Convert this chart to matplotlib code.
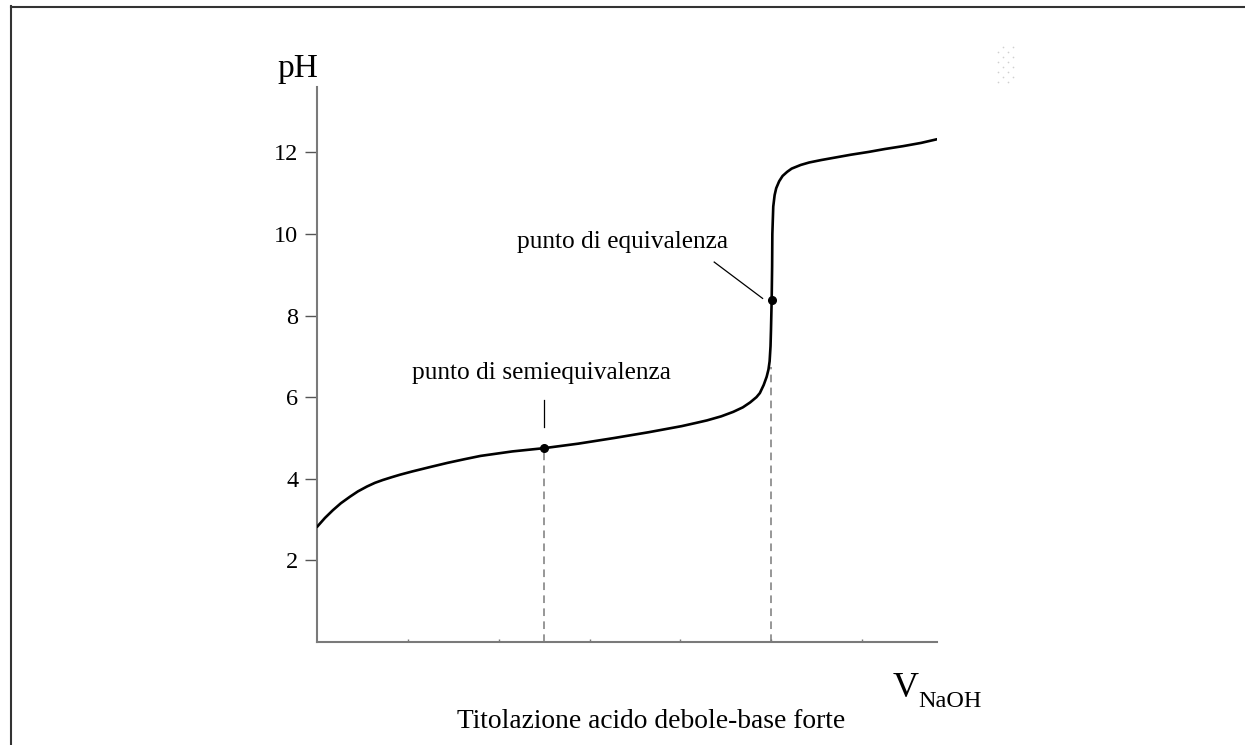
import matplotlib
matplotlib.use("Agg")
import matplotlib.pyplot as plt
from matplotlib.lines import Line2D
import numpy as np

# titration curve (volume NaOH, pH)
vol = [0.0, 0.35, 0.7, 1.05, 1.45, 1.8, 2.2, 2.55, 2.9, 3.3, 3.66, 4.2, 5.0,
       5.75, 6.5, 7.2, 8.6, 10.0, 11.5, 13.1, 14.6, 16.06, 16.7, 17.17, 17.8,
       18.33, 18.75, 19.07, 19.35, 19.5, 19.67, 19.8, 19.88, 19.93, 19.97,
       19.99, 20.02, 20.04, 20.05, 20.09, 20.15, 20.22, 20.35, 20.5, 20.7,
       20.9, 21.3, 21.67, 22.2, 22.8, 23.5, 24.3, 25.0, 25.8, 26.6, 27.3]
ph = [2.82, 3.04, 3.23, 3.40, 3.56, 3.69, 3.81, 3.90, 3.97, 4.04, 4.10, 4.18, 4.29,
      4.39, 4.48, 4.56, 4.67, 4.75, 4.86, 5.0, 5.14, 5.29, 5.37, 5.43, 5.53,
      5.64, 5.75, 5.87, 6.0, 6.1, 6.3, 6.5, 6.68, 6.88, 7.25,
      7.65, 8.38, 9.2, 10.0, 10.67, 10.95, 11.12, 11.29, 11.42, 11.52,
      11.6, 11.69, 11.75, 11.81, 11.87, 11.94, 12.01, 12.08, 12.15, 12.23, 12.32]

half_eq_vol, half_eq_ph = 10.0, 4.75
eq_vol, eq_ph = 20.02, 8.38
eq_dash_top = 6.75

yticks = [2, 4, 6, 8, 10, 12]
xticks = [4, 8, 12, 16, 20, 24]

serif = ['Liberation Serif', 'DejaVu Serif']
W, H = 1245, 745

fig = plt.figure(figsize=(W / 100, H / 100), dpi=100)
ax = fig.add_axes([317 / W, 1 - 642 / H, 620 / W, (642 - 87) / H])

gray = '#7a7a7a'
ax.plot(vol, ph, color='black', lw=1.9, solid_capstyle='round', solid_joinstyle='round', zorder=3)

# dashed guide lines
ax.plot([half_eq_vol, half_eq_vol], [0, half_eq_ph], ls=(0, (5, 3.5)), color=gray, lw=1.1)
ax.plot([eq_vol - 0.05, eq_vol - 0.05], [0, eq_dash_top], ls=(0, (5, 3.5)), color=gray, lw=1.1)

# points
ax.plot([half_eq_vol, eq_vol], [half_eq_ph, eq_ph], 'o', color='black', ms=5.5, zorder=4)

# annotations
ax.plot([half_eq_vol, half_eq_vol], [5.27, 5.93], color='black', lw=0.9)
ax.text(9.9, 6.45, 'punto di semiequivalenza', ha='center', va='baseline',
        fontsize=18.3, family=serif)
ax.plot([17.49, 19.62], [9.31, 8.42], color='black', lw=0.9)
ax.text(13.44, 9.66, 'punto di equivalenza', ha='center', va='baseline',
        fontsize=18.3, family=serif)

ax.set_xlim(0, 27.3)
ax.set_ylim(0, 13.6)
for s in ['top', 'right']:
    ax.spines[s].set_visible(False)
for s in ['left', 'bottom']:
    ax.spines[s].set_color(gray)
    ax.spines[s].set_linewidth(1.5)

ax.set_yticks(yticks)
ax.set_yticklabels([str(t) for t in yticks], fontsize=17.5, family=serif)
ax.tick_params(axis='y', direction='out', length=9, width=1.0, color='#555555', pad=4.5)
ax.set_xticks(xticks)
ax.set_xticklabels([])
ax.tick_params(axis='x', direction='in', length=2.5, width=1.0, color=gray)

# axis labels
fig.text(297.5 / W, 1 - 77 / H, 'pH', ha='center', va='baseline', fontsize=24, family=serif)
fig.text(893 / W, 1 - 697 / H, 'V', ha='left', va='baseline', fontsize=26, family=serif)
fig.text(918 / W, 1 - 707 / H, 'NaOH', ha='left', va='baseline', fontsize=17.5, family=serif)
fig.text(651 / W, 1 - 728 / H, 'Titolazione acido debole-base forte', ha='center',
         va='baseline', fontsize=19.8, family=serif)

# frame lines of the original page
fig.add_artist(Line2D([10.5 / W, 10.5 / W], [0, 1 - 6 / H], color='#333333', lw=1.5))
fig.add_artist(Line2D([10.5 / W, 1], [1 - 6.5 / H, 1 - 6.5 / H], color='#333333', lw=1.5))

# faint dot pattern top right
dot_x = [1003, 1013, 998, 1008, 1003, 1013, 998, 1008, 1003, 1013, 998, 1008, 1003, 1013, 998, 1008]
dot_y = [47, 47, 52, 52, 57, 57, 62, 62, 67, 67, 72, 72, 77, 77, 82, 82]
fig.add_artist(Line2D(np.array(dot_x) / W, 1 - np.array(dot_y) / H, ls='none', marker='o',
                      ms=1.2, color='#d0d0d0', mec='none'))

fig.savefig('out.png', dpi=100)
